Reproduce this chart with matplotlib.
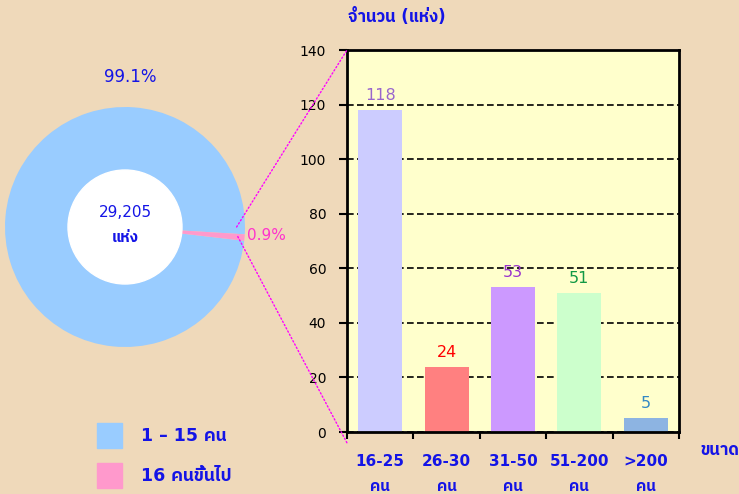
### Grafica de establecimientos por tamano (dona + barras)
import numpy as np
import matplotlib.pyplot as plt
from matplotlib import font_manager
from matplotlib.ft2font import FT2Font
from matplotlib.patches import Patch, Circle, ConnectionPatch

### Datos
categorias = ["16-25\nคน", "26-30\nคน", "31-50\nคน", "51-200\nคน", ">200\nคน"]
cantidades = [118, 24, 53, 51, 5]
total = 29205
etiquetas_leyenda = ["1 – 15 คน", "16 คนขึ้นไป"]

colores_barras = ["#CCCCFF", "#FF8080", "#CC99FF", "#CCFFCC", "#8DB4E2"]
colores_valores = ["#9966CC", "#FF0000", "#9933CC", "#119944", "#3388C4"]
colores_dona = ["#99CCFF", "#FF99CC"]
azul = "#1414E6"
fondo = "#EFD9BA"

### Buscar una fuente con glifos tailandeses
def fuente_tailandesa():
    candidatas = []
    for f in font_manager.fontManager.ttflist:
        try:
            if 0x0E01 in FT2Font(f.fname).get_charmap():
                candidatas.append(f.name)
        except Exception:
            pass
    # preferir sans
    candidatas.sort(key=lambda n: (0 if "Sans" in n or n in ("Tahoma", "Loma", "Garuda") else 1, n))
    return candidatas[0] if candidatas else None

tailandesa = fuente_tailandesa()
familias = ["DejaVu Sans"] + ([tailandesa] if tailandesa else [])
plt.rcParams["font.family"] = familias

fig = plt.figure(figsize=(7.39, 4.94), dpi=100)
fig.patch.set_facecolor(fondo)

### Dona
pequenos = total - sum(cantidades)
valores_dona = [pequenos, sum(cantidades)]
pct = [v / total * 100 for v in valores_dona]

ax_pie = fig.add_axes([5 / 739, 147 / 494, 240 / 739, 240 / 494])
cunas, _ = ax_pie.pie(valores_dona, colors=colores_dona, startangle=-3.5,
                      radius=1, wedgeprops=dict(width=0.525, linewidth=0))
ax_pie.add_patch(Circle((0, 0), 0.475, color="white", zorder=3))
ax_pie.set_xlim(-1, 1)
ax_pie.set_ylim(-1, 1)
ax_pie.set_aspect("equal")
ax_pie.axis("off")
ax_pie.text(0.04, 1.25, f"{pct[0]:.1f}%", color=azul, fontsize=12,
            ha="center", va="center", clip_on=False)
ax_pie.text(1.02, -0.07, f"{pct[1]:.1f}%", color="#FF33CC", fontsize=11,
            ha="left", va="center", clip_on=False)
ax_pie.text(0, 0.125, f"{total:,}", color=azul, fontsize=11,
            ha="center", va="center", zorder=4)
ax_pie.text(0, -0.085, "แห่ง", color=azul, fontsize=11, fontweight="bold",
            ha="center", va="center", zorder=4)

### Barras
ax = fig.add_axes([347 / 739, 62 / 494, 332 / 739, 382 / 494])
ax.set_facecolor("#FFFFCC")
x = np.arange(len(categorias))
ax.bar(x, cantidades, width=0.66, color=colores_barras, zorder=2)
for xi, v, c in zip(x, cantidades, colores_valores):
    ax.annotate(str(v), (xi, v), xytext=(0, 5), textcoords="offset points",
                ha="center", va="bottom", color=c, fontsize=11.5)

ax.set_xlim(-0.5, len(categorias) - 0.5)
ax.set_ylim(0, 140)
ax.set_yticks(range(0, 141, 20))
ax.yaxis.grid(True, linestyle=(0, (4, 2)), color="black", linewidth=1.2)
ax.set_axisbelow(True)
for s in ax.spines.values():
    s.set_linewidth(2)
    s.set_color("black")

ax.set_xticks(x)
ax.set_xticklabels(categorias, color=azul, fontweight="bold", fontsize=11,
                   linespacing=1.85)
ax.set_xticks(np.arange(-0.5, len(categorias)), minor=True)
ax.tick_params(axis="x", which="major", length=0, pad=16)
ax.tick_params(axis="x", which="minor", length=5, width=1.5, direction="out")
ax.tick_params(axis="y", length=6, width=1.5, labelsize=10, pad=9)

fig.text(348 / 739, 1 - 17 / 494, "จำนวน (แห่ง)", color=azul, fontsize=12,
         fontweight="bold", ha="left", va="center")
fig.text(700 / 739, 1 - 450 / 494, "ขนาด", color=azul, fontsize=12,
         fontweight="bold", ha="left", va="center")

### Lineas de conexion
for punto, y_fin in [((0.93, 0.0), 140), ((0.94, -0.08), -4)]:
    con = ConnectionPatch(xyA=punto, coordsA=ax_pie.transData,
                          xyB=(-0.5, y_fin), coordsB=ax.transData,
                          color="#FF00FF", linestyle=":", linewidth=1)
    fig.add_artist(con)

### Leyenda
manijas = [Patch(color=c) for c in colores_dona]
fig.legend(manijas, etiquetas_leyenda, loc="upper left",
           bbox_to_anchor=(97 / 739, 1 - 423 / 494), frameon=False,
           borderpad=0, borderaxespad=0, handlelength=1.45, handleheight=1.8,
           handletextpad=1.1, labelspacing=0.9,
           prop=dict(size=12.5, weight="bold"), labelcolor=azul)

fig.savefig("out.png", dpi=100, facecolor=fondo)
